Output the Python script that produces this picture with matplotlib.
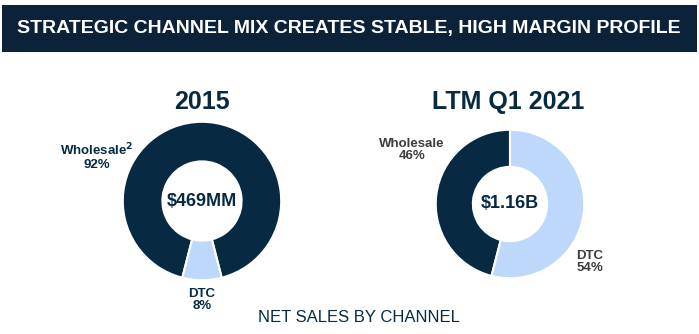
import matplotlib
matplotlib.use("Agg")
import matplotlib.pyplot as plt
from matplotlib.patches import Rectangle

W, H = 699, 334
NAVY = "#072a42"
LIGHT = "#bdd8fb"
HEAD = "#0b2239"
GREY = "#3d3d3d"

channels = ["Wholesale", "DTC"]
share_2015 = [92, 8]
share_2021 = [46, 54]
total_2015 = "$469MM"
total_2021 = "$1.16B"

plt.rcParams['font.family'] = ["Liberation Sans", "DejaVu Sans"]

fig = plt.figure(figsize=(W / 100, H / 100), dpi=100)


def fx(x):
    return x / W


def fy(y):
    return 1 - y / H


# header band
fig.patches.append(Rectangle((fx(2), fy(52)), fx(695), 47 / H, transform=fig.transFigure,
                             facecolor=HEAD, edgecolor="none", zorder=0))
fig.text(fx(349), fy(29), "STRATEGIC CHANNEL MIX CREATES STABLE, HIGH MARGIN PROFILE",
         ha="center", va="center", color="white", fontsize=14, fontweight="bold")


def donut(cx, cy, r, vals, start, center_txt):
    ax = fig.add_axes([fx(cx - r - 1), fy(cy + r + 1), (2 * r + 2) / W, (2 * r + 2) / H])
    ax.pie(vals, colors=[NAVY, LIGHT], startangle=start, counterclock=True, radius=1,
           wedgeprops=dict(width=0.5, edgecolor="white", linewidth=1.5))
    ax.set_xlim(-1.01, 1.01)
    ax.set_ylim(-1.01, 1.01)
    ax.set_aspect("auto")
    ax.axis("off")
    ax.text(0, 0, center_txt, ha="center", va="center", fontsize=13, fontweight="bold",
            color=NAVY)


donut(202, 201, 79, share_2015, 270 + share_2015[1] * 3.6 / 2, total_2015)
donut(510, 204, 74, share_2021, 90, total_2021)

fig.text(fx(202), fy(102), "2015", ha="center", va="center", fontsize=18,
         fontweight="bold", color=NAVY)
fig.text(fx(508), fy(102), "LTM Q1 2021", ha="center", va="center", fontsize=18,
         fontweight="bold", color=NAVY)

fig.text(fx(97), fy(156), "Wholesale$^{\\mathbf{2}}$\n%d%%" % share_2015[0], ha="center",
         va="center", fontsize=9.5, fontweight="bold", color=NAVY, linespacing=1.05)
fig.text(fx(202), fy(300), "DTC\n%d%%" % share_2015[1], ha="center", va="center",
         fontsize=9.5, fontweight="bold", color=NAVY, linespacing=1.05)
fig.text(fx(412), fy(150), "Wholesale\n%d%%" % share_2021[0], ha="center", va="center",
         fontsize=9.5, fontweight="bold", color=GREY, linespacing=1.05)
fig.text(fx(590), fy(262), "DTC\n%d%%" % share_2021[1], ha="center", va="center",
         fontsize=9.5, fontweight="bold", color=GREY, linespacing=1.05)

fig.text(fx(359), fy(318), "NET SALES BY CHANNEL", ha="center", va="center",
         fontsize=12, color=NAVY)

fig.savefig("out.png", dpi=100)
